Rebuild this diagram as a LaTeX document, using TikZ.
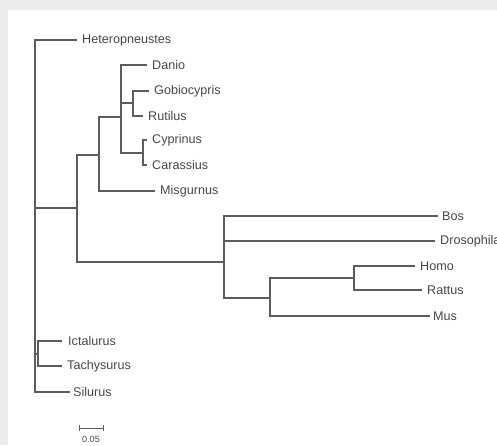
\documentclass[tikz,border=0pt]{standalone}
\usepackage{fontspec}
\setmainfont{Liberation Sans}
\definecolor{branch}{HTML}{5C5C5C}
\definecolor{labeltxt}{HTML}{484848}
\definecolor{frame}{HTML}{EBEBEB}
\begin{document}
\begin{tikzpicture}[x=1pt,y=-1pt,
  br/.style={draw=branch,line width=1.2pt},
  leaf/.style={anchor=west,inner sep=0pt,text=labeltxt,font=\fontsize{12.6}{13}\selectfont}]
\useasboundingbox (0,0) rectangle (497,445);
\fill[white] (0,0) rectangle (497,445);
\fill[frame] (0,0) rectangle (497,10);
\fill[frame] (0,0) rectangle (8,445);
% internal nodes
\coordinate (root) at (35,216);
\coordinate (A) at (77,208);
\coordinate (B) at (99,155);
\coordinate (C) at (121,117);
\coordinate (D) at (133,103);
\coordinate (E) at (143,153);
\coordinate (F) at (224,262);
\coordinate (G) at (270,298);
\coordinate (H) at (354,278);
\coordinate (IT) at (38,354);
% leaf tips
\coordinate (tHet) at (77,40);
\coordinate (tSil) at (70,392);
\coordinate (tMis) at (155,191);
\coordinate (tDan) at (147,65);
\coordinate (tGob) at (149,91);
\coordinate (tRut) at (143,116);
\coordinate (tCyp) at (147,140);
\coordinate (tCar) at (147,165);
\coordinate (tBos) at (438,216);
\coordinate (tDro) at (435,241);
\coordinate (tMus) at (430,316);
\coordinate (tHom) at (415,266);
\coordinate (tRat) at (422,290);
\coordinate (tIct) at (62,341);
\coordinate (tTac) at (62,366);
% labels
\node[leaf] (Het) at ([xshift=5pt]tHet) {Heteropneustes};
\node[leaf] (Sil) at ([xshift=3pt]tSil) {Silurus};
\node[leaf] (Mis) at ([xshift=5pt]tMis) {Misgurnus};
\node[leaf] (Dan) at ([xshift=5pt]tDan) {Danio};
\node[leaf] (Gob) at ([xshift=5pt]tGob) {Gobiocypris};
\node[leaf] (Rut) at ([xshift=5pt]tRut) {Rutilus};
\node[leaf] (Cyp) at ([xshift=5pt]tCyp) {Cyprinus};
\node[leaf] (Car) at ([xshift=5pt]tCar) {Carassius};
\node[leaf] (Bos) at ([xshift=4pt]tBos) {Bos};
\node[leaf] (Dro) at ([xshift=5pt]tDro) {Drosophila};
\node[leaf] (Mus) at ([xshift=3pt]tMus) {Mus};
\node[leaf] (Hom) at ([xshift=5pt]tHom) {Homo};
\node[leaf] (Rat) at ([xshift=5pt]tRat) {Rattus};
\node[leaf] (Ict) at ([xshift=6pt]tIct) {Ictalurus};
\node[leaf] (Tac) at ([xshift=5pt]tTac) {Tachysurus};
% branches
\draw[br] (root) |- (tHet);
\draw[br] (root) |- (A);
\draw[br] (root) |- (IT);
\draw[br] (root) |- (tSil);
\draw[br] (A) |- (B);
\draw[br] (A) |- (F);
\draw[br] (B) |- (C);
\draw[br] (B) |- (tMis);
\draw[br] (C) |- (tDan);
\draw[br] (C) |- (D);
\draw[br] (C) |- (E);
\draw[br] (D) |- (tGob);
\draw[br] (D) |- (tRut);
\draw[br] (E) |- (tCyp);
\draw[br] (E) |- (tCar);
\draw[br] (F) |- (tBos);
\draw[br] (F) |- (tDro);
\draw[br] (F) |- (G);
\draw[br] (G) |- (H);
\draw[br] (G) |- (tMus);
\draw[br] (H) |- (tHom);
\draw[br] (H) |- (tRat);
\draw[br] (IT) |- (tIct);
\draw[br] (IT) |- (tTac);
% scale bar
\coordinate (s1) at (79,428);
\coordinate (s2) at (103,428);
\draw[br,line width=1pt] ([yshift=-3pt]s1) -- ([yshift=3pt]s1);
\draw[br,line width=1pt] ([yshift=-3pt]s2) -- ([yshift=3pt]s2);
\draw[br,line width=1pt] (s1) -- (s2);
\node[inner sep=0pt,text=labeltxt,font=\fontsize{9}{10}\selectfont] (sl) at (91,439) {0.05};
\end{tikzpicture}
\end{document}
